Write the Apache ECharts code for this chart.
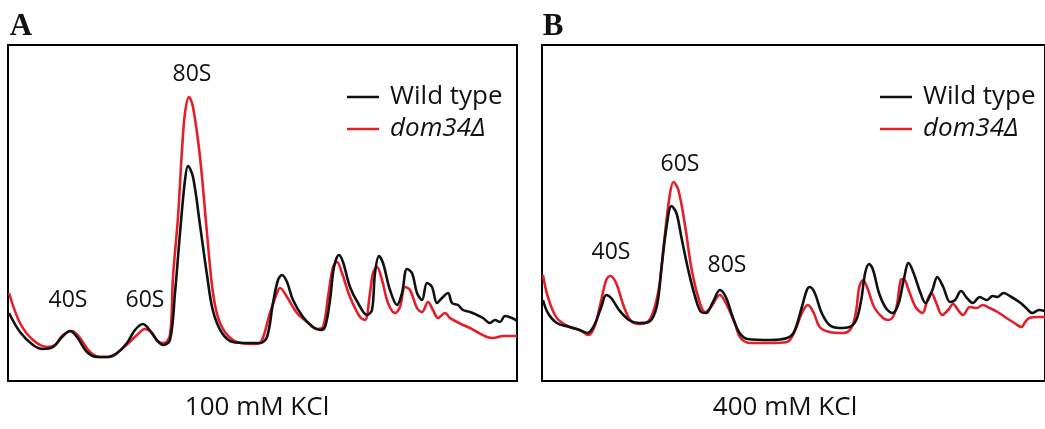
<!DOCTYPE html>
<html>
<head>
<meta charset="utf-8">
<script src="https://cdn.jsdelivr.net/npm/echarts@6/dist/echarts.min.js"></script>
<style>
html,body{margin:0;padding:0;background:#fff;}
#c{width:1045px;height:429px;}
</style>
</head>
<body>
<div id="c"></div>
<script>
// Panel A (100 mM KCl): [gradient position, absorbance (a.u.)]
var wildTypeA = [[1,68],[12,49],[25,36],[35,32],[45,34],[54,44],[62,50],[69,44],[79,29],[89,24],[99,24],[109,28],[119,38],[127,51],[135,57],[140,53],[149,41],[155,36],[162,41],[167,88],[172,148],[177,201],[180,215],[185,204],[192,156],[199,106],[205,70],[214,48],[225,39],[239,38],[252,38],[259,44],[265,78],[270,101],[274,106],[279,99],[285,81],[295,64],[305,54],[312,51],[317,54],[322,81],[326,114],[331,126],[335,119],[342,94],[350,78],[359,66],[364,71],[367,108],[371,125],[375,118],[382,91],[389,76],[394,88],[399,112],[404,108],[409,88],[414,81],[419,98],[424,94],[429,78],[434,83],[440,88],[444,78],[450,76],[455,71],[462,69],[469,66],[475,63],[482,58],[487,61],[492,59],[497,65],[504,63],[509,60]];
var dom34A = [[1,88],[12,58],[25,41],[39,34],[47,36],[55,46],[64,50],[72,43],[82,29],[92,24],[102,24],[115,33],[129,46],[137,52],[144,48],[150,39],[156,38],[162,46],[165,104],[170,164],[174,231],[177,268],[181,284],[185,274],[192,224],[199,148],[205,88],[212,58],[225,41],[245,37],[252,38],[262,68],[269,88],[272,93],[279,84],[289,68],[299,59],[309,52],[315,54],[320,84],[325,114],[329,119],[334,108],[342,84],[352,64],[357,61],[362,88],[365,108],[369,114],[374,101],[380,78],[387,68],[392,74],[397,94],[402,91],[409,73],[414,69],[420,79],[425,71],[430,63],[437,68],[442,63],[449,59],[455,56],[462,53],[469,49],[479,44],[485,43],[495,45],[509,45]];
// Panel B (400 mM KCl)
var wildTypeB = [[1,81],[6,68],[15,58],[28,54],[38,51],[46,48],[53,56],[60,74],[65,86],[70,83],[78,71],[88,61],[98,58],[108,59],[116,74],[121,114],[126,154],[131,175],[136,168],[141,144],[148,111],[155,84],[161,69],[166,68],[173,79],[180,91],[186,84],[193,64],[200,48],[208,42],[231,41],[248,43],[255,49],[263,74],[268,91],[271,94],[276,88],[283,68],[291,56],[301,53],[311,54],[318,61],[323,81],[327,108],[331,117],[335,111],[341,88],[348,73],[355,68],[361,78],[366,101],[371,118],[376,108],[383,88],[388,78],[395,91],[400,104],[406,94],[413,79],[418,81],[424,90],[430,83],[436,78],[443,84],[450,81],[456,85],[461,84],[467,88],[475,84],[483,79],[490,73],[496,68],[503,71],[509,70]];
var dom34B = [[1,106],[6,84],[15,63],[28,54],[38,51],[47,46],[53,54],[60,81],[65,101],[69,105],[75,98],[83,74],[91,59],[101,57],[110,63],[118,91],[123,134],[129,184],[133,199],[138,191],[145,154],[151,114],[158,84],[165,69],[171,74],[180,86],[186,78],[195,58],[201,43],[211,38],[231,38],[248,39],[255,48],[263,68],[269,76],[275,68],[281,54],[291,49],[305,48],[313,53],[318,71],[321,94],[325,101],[330,91],[336,74],[345,63],[351,61],[358,71],[363,101],[366,102],[371,91],[378,74],[385,68],[390,81],[394,88],[399,78],[405,66],[411,71],[416,77],[421,71],[426,66],[433,74],[440,73],[446,76],[453,73],[461,69],[470,63],[478,58],[485,54],[489,59],[493,63],[503,64],[509,64]];
var seriesNames = ['Wild type', 'dom34Δ'];
var panelLetters = ['A', 'B'];
var conditions = ['100 mM KCl', '400 mM KCl'];
var peakLabelsA = ['40S', '60S', '80S'];
var peakLabelsB = ['40S', '60S', '80S'];

var BLACK = '#111111', RED = '#e3202a';
var FONT = '"Open Sans", sans-serif';
var chart = echarts.init(document.getElementById('c'), null, {renderer: 'canvas'});

function axisX(i){ return {type:'value', gridIndex:i, min:0, max:509, show:false}; }
function axisY(i){ return {type:'value', gridIndex:i, min:0, max:336, show:false}; }
function line(name, data, color, i){
  return {type:'line', name:name, data:data, xAxisIndex:i, yAxisIndex:i, showSymbol:false,
    smooth:0.35, lineStyle:{color:color, width:2.6}, itemStyle:{color:color}, z: color===RED?2:3, animation:false};
}
function legend(left){
  return {orient:'vertical', left:left, top:84, padding:0, icon:'rect', itemWidth:32, itemHeight:2.5, itemGap:6,
    data:seriesNames, selectedMode:false,
    textStyle:{fontFamily:FONT, fontSize:26, color:'#111', padding:[0,0,0,6],
      rich:{i:{fontFamily:FONT, fontSize:26, fontStyle:'italic', color:'#111'}}},
    formatter:function(n){ return n==='dom34Δ' ? '{i|dom34Δ}' : n; }};
}
function txt(t, x, y, size, font){
  return {type:'text', x:x, y:y, style:{text:t, textAlign:'center', textVerticalAlign:'middle',
    font: font || (size+'px ' + FONT), fill:'#111'}};
}

chart.setOption({
  backgroundColor:'#fff',
  animation:false,
  grid:[
    {left:8, top:45, width:509, height:336, show:true, borderColor:'#000', borderWidth:2, backgroundColor:'transparent'},
    {left:542, top:45, width:509, height:336, show:true, borderColor:'#000', borderWidth:2, backgroundColor:'transparent'}
  ],
  xAxis:[axisX(0), axisX(1)],
  yAxis:[axisY(0), axisY(1)],
  legend:[legend(347), legend(880)],
  series:[
    line(seriesNames[1], dom34A, RED, 0),
    line(seriesNames[0], wildTypeA, BLACK, 0),
    line(seriesNames[1], dom34B, RED, 1),
    line(seriesNames[0], wildTypeB, BLACK, 1)
  ],
  graphic:[
    txt(panelLetters[0], 21, 27, 31, 'bold 31px "Liberation Serif", serif'),
    txt(panelLetters[1], 553, 27, 31, 'bold 31px "Liberation Serif", serif'),
    txt(peakLabelsA[0], 68, 300, 23),
    txt(peakLabelsA[1], 145, 300, 23),
    txt(peakLabelsA[2], 192, 74, 23),
    txt(peakLabelsB[0], 611, 252, 23),
    txt(peakLabelsB[1], 680, 164, 23),
    txt(peakLabelsB[2], 727, 265, 23),
    txt(conditions[0], 257, 408, 26),
    txt(conditions[1], 785, 408, 26)
  ]
});
</script>
</body>
</html>
